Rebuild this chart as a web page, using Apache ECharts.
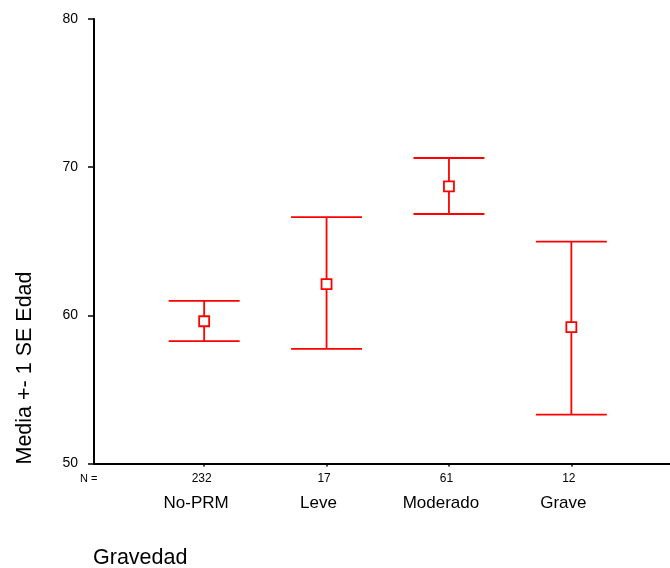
<!DOCTYPE html>
<html>
<head>
<meta charset="utf-8">
<script src="https://cdn.jsdelivr.net/npm/echarts@6/dist/echarts.min.js"></script>
<style>html,body{margin:0;padding:0;background:#fff;}#c{width:670px;height:568px;}</style>
</head>
<body>
<div id="c"></div>
<script>
const categories = ['No-PRM', 'Leve', 'Moderado', 'Grave'];
const nCounts = [232, 17, 61, 12];
const means = [59.6, 62.1, 68.7, 59.2];
const lowerSE = [58.26, 57.74, 66.84, 53.3];
const upperSE = [60.98, 66.63, 70.62, 64.97];
const yTicks = [50, 60, 70, 80];
const xPositions = [1, 2, 3, 4];
const xTitle = 'Gravedad';
const yTitle = 'Media +- 1 SE Edad';
const nLabel = 'N =';

const FONT = '"Liberation Sans", Arial, sans-serif';
const RED = '#ff0000';

const data = categories.map((c, i) => [xPositions[i], means[i], lowerSE[i], upperSE[i]]);

const chart = echarts.init(document.getElementById('c'), null, {renderer: 'canvas'});
chart.setOption({
  animation: false,
  backgroundColor: '#fff',
  grid: {left: 94, right: 0, top: 19, bottom: 104.5, containLabel: false},
  xAxis: {
    type: 'value', min: 0.1, max: 4.806,
    splitLine: {show: false},
    axisLine: {show: true, onZero: false, lineStyle: {color: '#000', width: 2}},
    axisTick: {show: true, customValues: xPositions, length: 3, lineStyle: {color: '#000', width: 1.5}},
    axisLabel: {
      show: true, customValues: xPositions, margin: 8,
      fontFamily: FONT, color: '#000',
      formatter: v => {
        const i = xPositions.indexOf(Math.round(v));
        return i < 0 ? '' : '{n|' + nCounts[i] + '}\n{c|' + categories[i] + '}';
      },
      rich: {
        n: {fontSize: 12, lineHeight: 14, fontFamily: FONT, color: '#000', padding: [0, 5, 0, 0]},
        c: {fontSize: 17, lineHeight: 36, fontFamily: FONT, color: '#000', padding: [0, 16, 0, 0]}
      }
    }
  },
  yAxis: {
    type: 'value', min: yTicks[0], max: yTicks[yTicks.length - 1], interval: 10,
    splitLine: {show: false},
    axisLine: {show: true, onZero: false, lineStyle: {color: '#000', width: 2}},
    axisTick: {show: true, length: 6, lineStyle: {color: '#000', width: 1.5}},
    axisLabel: {fontSize: 14, fontFamily: FONT, color: '#000', margin: 16}
  },
  graphic: [
    {type: 'text', x: 25, y: 368, rotation: Math.PI / 2,
      style: {text: yTitle, font: '21.5px ' + FONT, fill: '#000', align: 'center', verticalAlign: 'middle'}},
    {type: 'text', x: 93, y: 558,
      style: {text: xTitle, font: '21.5px ' + FONT, fill: '#000', align: 'left', verticalAlign: 'middle'}},
    {type: 'text', x: 80, y: 479,
      style: {text: nLabel, font: '11px ' + FONT, fill: '#000', align: 'left', verticalAlign: 'middle'}}
  ],
  series: [{
    type: 'custom',
    data: data,
    encode: {x: 0, y: [1, 2, 3]},
    renderItem: (params, api) => {
      const x = api.value(0);
      const pm = api.coord([x, api.value(1)]);
      const pl = api.coord([x, api.value(2)]);
      const ph = api.coord([x, api.value(3)]);
      const hw = api.size([0.58, 0])[0] / 2;
      const ls = {stroke: RED, lineWidth: 1.8};
      const sq = 10;
      return {
        type: 'group',
        children: [
          {type: 'line', shape: {x1: pl[0], y1: pl[1], x2: ph[0], y2: ph[1]}, style: ls},
          {type: 'line', shape: {x1: ph[0] - hw, y1: ph[1], x2: ph[0] + hw, y2: ph[1]}, style: ls},
          {type: 'line', shape: {x1: pl[0] - hw, y1: pl[1], x2: pl[0] + hw, y2: pl[1]}, style: ls},
          {type: 'rect', shape: {x: pm[0] - sq / 2, y: pm[1] - sq / 2, width: sq, height: sq},
            style: {fill: '#fff', stroke: RED, lineWidth: 1.8}}
        ]
      };
    }
  }]
});
</script>
</body>
</html>
